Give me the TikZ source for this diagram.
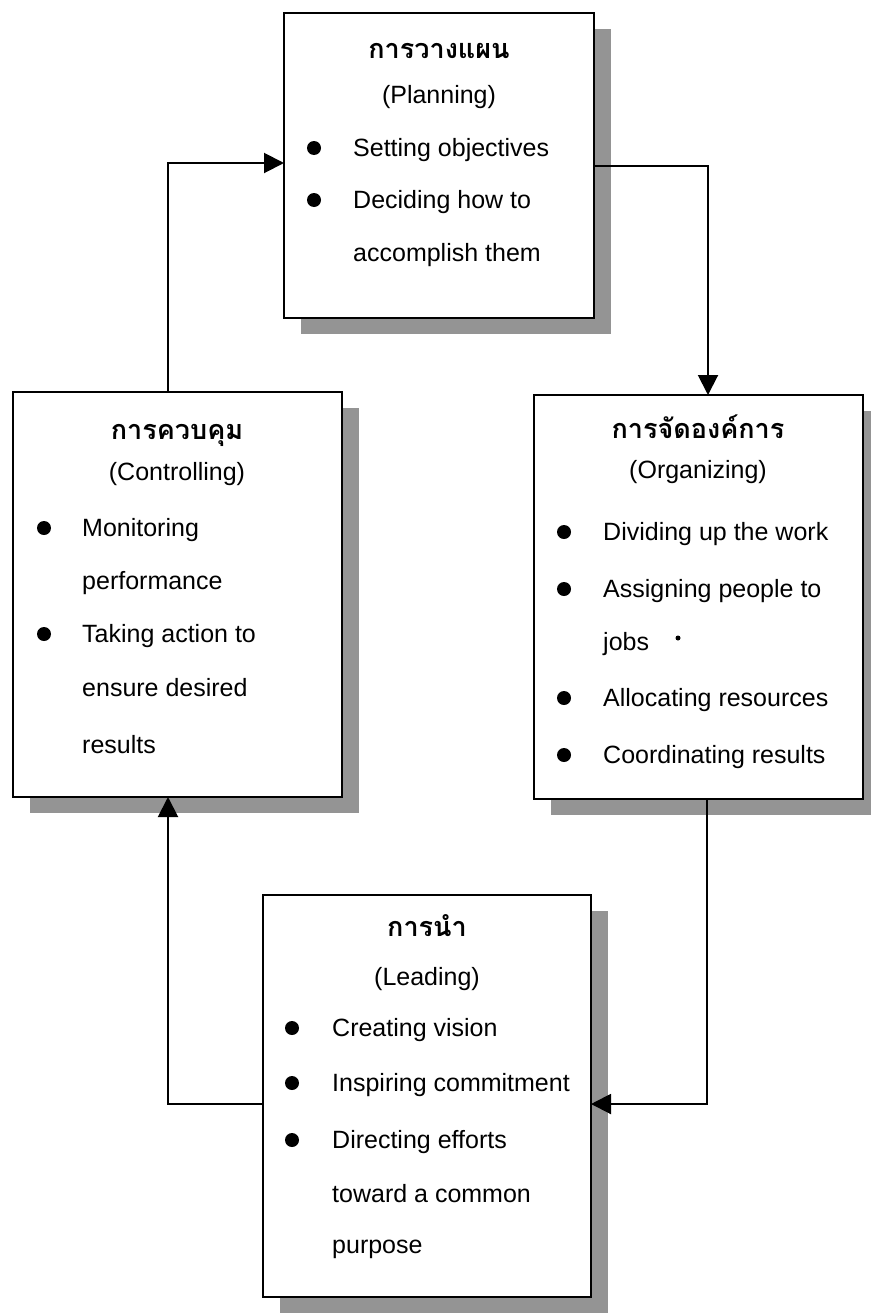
\documentclass[tikz,border=0pt]{standalone}
\usepackage{fontspec}
\setmainfont{Liberation Sans}
\newfontfamily\thaifont[Script=Thai]{Loma}
\usetikzlibrary{arrows.meta,shadows}

\begin{document}
\begin{tikzpicture}[x=1pt,y=-1pt,
  panel/.style={draw, line width=2.5pt, fill=white, inner sep=0pt, outer sep=0pt,
    anchor=north west,
    drop shadow={shadow xshift=17pt, shadow yshift=-16pt, fill=black!42, opacity=1}},
  title/.style={font=\thaifont\bfseries\fontsize{27}{32}\selectfont, anchor=base, inner sep=0pt},
  sub/.style={font=\fontsize{25}{30}\selectfont, anchor=base, inner sep=0pt},
  item/.style={font=\fontsize{25}{30}\selectfont, anchor=base west, inner sep=0pt},
  dot/.style={circle, fill=black, inner sep=0pt, minimum size=14pt},
  speck/.style={circle, fill=black, inner sep=0pt, minimum size=5pt},
  conn/.style={line width=2pt, -{Triangle[length=20pt,width=20pt]}}]

\useasboundingbox (0,0) rectangle (870,1314);

% ---- boxes ----
\node[panel, minimum width=310pt, minimum height=305pt] (plan) at (284,13) {};
\node[panel, minimum width=329pt, minimum height=405pt] (ctrl) at (13,392) {};
\node[panel, minimum width=329pt, minimum height=404pt] (org)  at (534,395) {};
\node[panel, minimum width=328pt, minimum height=402pt] (lead) at (263,895) {};

% ---- planning ----
\node[title] (plan-t) at (439,59)  {การวางแผน};
\node[sub]   (plan-s) at (439,103) {(Planning)};
\node[dot]   (plan-b1) at (314,148) {};
\node[item]  (plan-1) at (353,156) {Setting objectives};
\node[dot]   (plan-b2) at (314,200) {};
\node[item]  (plan-2) at (353,208) {Deciding how to};
\node[item]  (plan-3) at (353,261) {accomplish them};

% ---- controlling ----
\node[title] (ctrl-t) at (177,439) {การควบคุม};
\node[sub]   (ctrl-s) at (177,480) {(Controlling)};
\node[dot]   (ctrl-b1) at (44,528) {};
\node[item]  (ctrl-1) at (82,536) {Monitoring};
\node[item]  (ctrl-2) at (82,589) {performance};
\node[dot]   (ctrl-b2) at (44,634) {};
\node[item]  (ctrl-3) at (82,642) {Taking action to};
\node[item]  (ctrl-4) at (82,696) {ensure desired};
\node[item]  (ctrl-5) at (82,753) {results};

% ---- organizing ----
\node[title] (org-t) at (698,438) {การจัดองค์การ};
\node[sub]   (org-s) at (698,478) {(Organizing)};
\node[dot]   (org-b1) at (564,532) {};
\node[item]  (org-1) at (603,540) {Dividing up the work};
\node[dot]   (org-b2) at (564,589) {};
\node[item]  (org-2) at (603,597) {Assigning people to};
\node[item]  (org-3) at (603,650) {jobs};
\node[speck] (org-speck) at (678,638) {};
\node[dot]   (org-b3) at (564,698) {};
\node[item]  (org-4) at (603,706) {Allocating resources};
\node[dot]   (org-b4) at (564,755) {};
\node[item]  (org-5) at (603,763) {Coordinating results};

% ---- leading ----
\node[title] (lead-t) at (427,936) {การนำ};
\node[sub]   (lead-s) at (427,985) {(Leading)};
\node[dot]   (lead-b1) at (292,1028) {};
\node[item]  (lead-1) at (332,1036) {Creating vision};
\node[dot]   (lead-b2) at (292,1083) {};
\node[item]  (lead-2) at (332,1091) {Inspiring commitment};
\node[dot]   (lead-b3) at (292,1140) {};
\node[item]  (lead-3) at (332,1148) {Directing efforts};
\node[item]  (lead-4) at (332,1202) {toward a common};
\node[item]  (lead-5) at (332,1253) {purpose};

% ---- cycle connectors ----
\coordinate (e1) at (168,163);
\coordinate (e2) at (708,166);
\coordinate (e3) at (707,1104);
\coordinate (e4) at (168,1104);

\draw[conn] (ctrl.north -| e1) -- (e1) -- (plan.west |- e1);
\draw[conn] (plan.east |- e2) -- (e2) -- (org.north -| e2);
\draw[conn] (org.south -| e3) -- (e3) -- (lead.east |- e3);
\draw[conn] (lead.west |- e4) -- (e4) -- (ctrl.south -| e4);
\end{tikzpicture}
\end{document}
